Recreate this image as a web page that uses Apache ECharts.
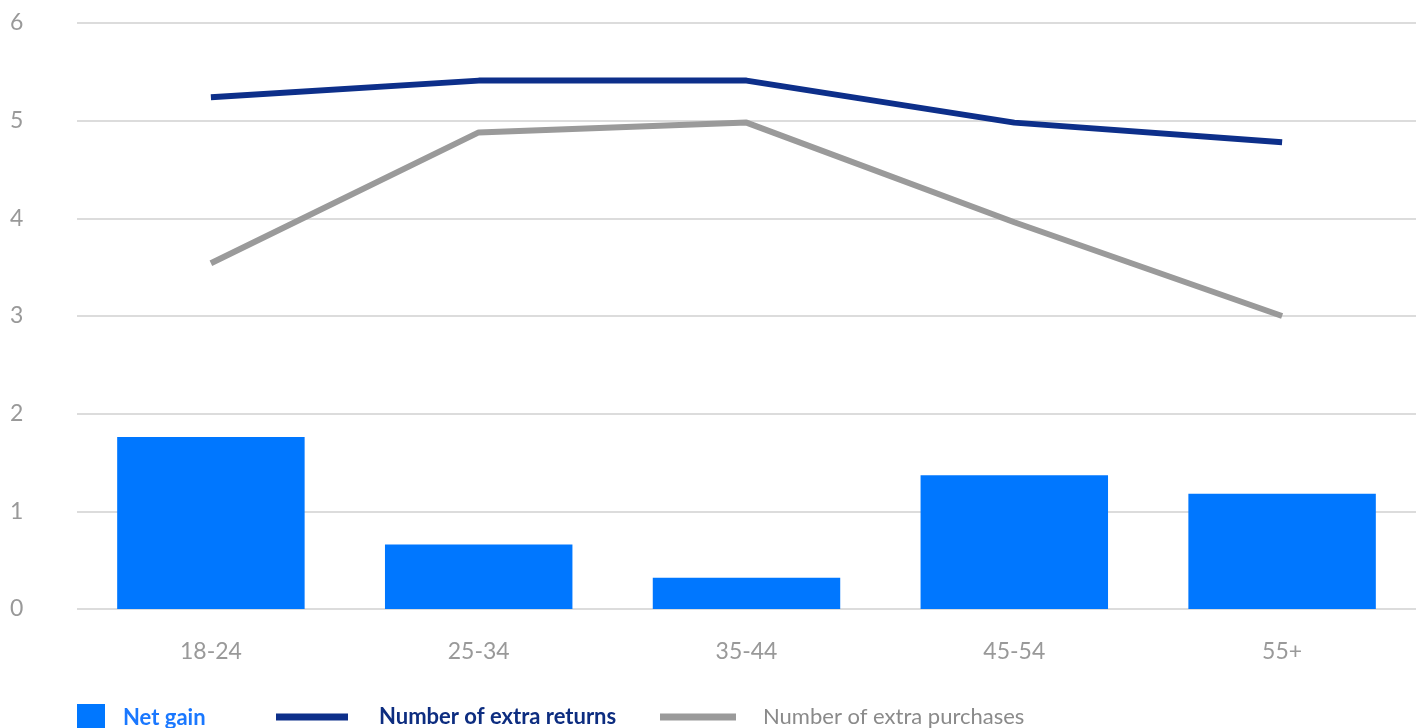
<!DOCTYPE html>
<html>
<head>
<meta charset="utf-8">
<script src="https://cdn.jsdelivr.net/npm/echarts@6/dist/echarts.min.js"></script>
<style>
  html, body { margin: 0; padding: 0; background: #fff; }
  #main { width: 1426px; height: 728px; }
</style>
</head>
<body>
<div id="main"></div>
<script>
// age groups
var categories = ['18-24', '25-34', '35-44', '45-54', '55+'];
var netGain = [1.76, 0.66, 0.32, 1.37, 1.18];
var extraReturns = [5.24, 5.41, 5.41, 4.98, 4.78];
var extraPurchases = [3.54, 4.88, 4.98, 3.96, 3.0];

var myChart = echarts.init(document.getElementById('main'));
var font = 'Lato';

var option = {
    backgroundColor: '#fff',
    animation: false,
    grid: { left: 77, right: 10, top: 23, bottom: 119 },
    legend: [
        {
            left: 72, top: 699, icon: 'rect', itemWidth: 28, itemHeight: 28, itemGap: 10,
            data: ['Net gain'],
            textStyle: { color: '#1a78ff', fontSize: 22, fontWeight: 'bold', fontFamily: font, padding: [2, 0, 0, 13] }
        },
        {
            left: 271, top: 701, icon: 'rect', itemWidth: 72, itemHeight: 7,
            data: ['Number of extra returns'],
            textStyle: { color: '#0d2d80', fontSize: 22, fontWeight: 'bold', fontFamily: font, padding: [0, 0, 0, 26] }
        },
        {
            left: 655, top: 701, icon: 'rect', itemWidth: 76, itemHeight: 7,
            data: ['Number of extra purchases'],
            textStyle: { color: '#8a8a8a', fontSize: 22, fontFamily: font, padding: [0, 0, 0, 22] }
        }
    ],
    xAxis: {
        type: 'category',
        data: categories,
        axisLine: { show: false },
        axisTick: { show: false },
        axisLabel: { color: '#999', fontSize: 23, fontFamily: font, margin: 31 }
    },
    yAxis: {
        type: 'value',
        min: 0, max: 6, interval: 1,
        axisLabel: { color: '#999', fontSize: 23, fontFamily: font, margin: 67, align: 'left' },
        splitLine: { lineStyle: { color: '#dcdcdc', width: 2 } }
    },
    series: [
        {
            name: 'Net gain',
            type: 'bar',
            data: netGain,
            barWidth: '70%',
            itemStyle: { color: '#0077ff' }
        },
        {
            name: 'Number of extra returns',
            type: 'line',
            data: extraReturns,
            symbol: 'none',
            lineStyle: { color: '#0d2f8a', width: 6 },
            itemStyle: { color: '#0d2f8a' }
        },
        {
            name: 'Number of extra purchases',
            type: 'line',
            data: extraPurchases,
            symbol: 'none',
            lineStyle: { color: '#9a9a9a', width: 6 },
            itemStyle: { color: '#9a9a9a' }
        }
    ]
};

myChart.setOption(option);
</script>
</body>
</html>
